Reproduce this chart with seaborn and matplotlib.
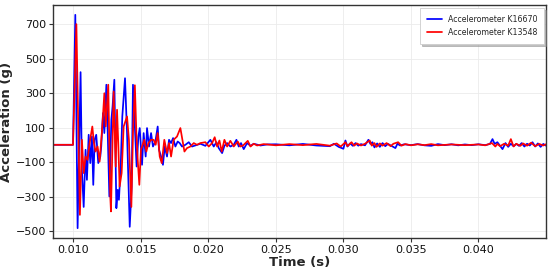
import matplotlib
matplotlib.use("Agg")
import matplotlib.pyplot as plt
import seaborn as sns
import pandas as pd

t_k16670 = [0.0085, 0.00998, 0.01015, 0.01032, 0.01054, 0.01064, 0.01077, 0.01091, 0.01101, 0.01114,
            0.01126, 0.01138, 0.01148, 0.01158, 0.01170, 0.01185, 0.01200, 0.01207, 0.01220, 0.01230,
            0.01245, 0.01254, 0.01267, 0.01282, 0.01291, 0.01304, 0.01319, 0.01329, 0.01338, 0.01351,
            0.01363, 0.01383, 0.01398, 0.01418, 0.01432, 0.01442, 0.01459, 0.01469, 0.01482, 0.01492,
            0.01509, 0.01521, 0.01536, 0.01546, 0.01561, 0.01576, 0.01590, 0.01608, 0.01625, 0.01635,
            0.01650, 0.01664, 0.01677, 0.01694, 0.01709, 0.01724, 0.01739, 0.01756, 0.01773, 0.01788,
            0.01805, 0.01830, 0.01855, 0.01879, 0.01941, 0.01978, 0.02015, 0.02040, 0.02060, 0.02077,
            0.02102, 0.02119, 0.02139, 0.02163, 0.02188, 0.02208, 0.02225, 0.02242, 0.02262, 0.02287,
            0.02312, 0.02336, 0.02386, 0.02435, 0.0250, 0.0260, 0.0270, 0.0280, 0.0290, 0.0293,
            0.02965, 0.0300, 0.03015, 0.0303, 0.0305, 0.0307, 0.0309, 0.0311, 0.0313, 0.0316,
            0.03185, 0.0320, 0.03215, 0.0323, 0.0325, 0.0327, 0.0329, 0.0331, 0.0333, 0.03385,
            0.0340, 0.0342, 0.0345, 0.0350, 0.0355, 0.0360, 0.0365, 0.0370, 0.0375, 0.0380,
            0.0385, 0.0390, 0.0395, 0.0400, 0.0405, 0.04085, 0.04104, 0.0412, 0.0414, 0.04178,
            0.0420, 0.0422, 0.0424, 0.0426, 0.0428, 0.0430, 0.0432, 0.0434, 0.0436, 0.0438,
            0.0440, 0.0442, 0.0444, 0.0446, 0.0448, 0.0450]
a_k16670 = [0, 0, 753, -483, 421, -150, -360, -29, -203, 58,
            -106, 48, -232, 29, 58, -106, -68, -10, 184, 68,
            348, 100, -299, 145, 222, 377, -367, -261, -319, -126,
            164, 386, 68, -475, -242, 348, 48, -126, 48, 97,
            -116, 68, -68, 97, -10, 68, -10, 19, 106, -29,
            -68, -116, -10, -68, 29, 10, 39, -10, 19, 10,
            -10, 0, 15, -10, 6, -6, 29, -10, 15, -19,
            -48, -6, 10, -10, 0, 29, -10, 10, -25, 10,
            -6, 6, -4, 2, 3, -3, 5, -4, -8, 6,
            -12, -23, 25, -10, 8, -6, 10, -5, 4, -3,
            29, 5, 15, -15, 8, -12, 10, -8, 5, -19,
            6, -4, 3, -2, 4, -3, -6, 4, -2, 3,
            -3, 2, -2, 3, -2, 5, 33, 5, 15, -25,
            10, -12, 6, -8, 5, -6, 10, -10, 6, -4,
            15, -10, 8, -12, 5, -5]

t_k13548 = [0.0085, 0.00998, 0.01023, 0.01049, 0.01064, 0.01077, 0.01091, 0.01106, 0.01121, 0.01141,
            0.01153, 0.01165, 0.01180, 0.01195, 0.01215, 0.01230, 0.01240, 0.01259, 0.01274, 0.01279,
            0.01299, 0.01314, 0.01324, 0.01333, 0.01343, 0.01358, 0.01373, 0.01398, 0.01412, 0.01430,
            0.01442, 0.01456, 0.01467, 0.01477, 0.01489, 0.01501, 0.01509, 0.01526, 0.01541, 0.01556,
            0.01576, 0.01595, 0.01610, 0.01625, 0.01640, 0.01655, 0.01674, 0.01694, 0.01709, 0.01724,
            0.01743, 0.01768, 0.01793, 0.01808, 0.01823, 0.01842, 0.01867, 0.01892, 0.01916, 0.01941,
            0.01978, 0.02003, 0.02028, 0.02047, 0.02065, 0.02082, 0.02099, 0.02119, 0.02139, 0.02163,
            0.02188, 0.02218, 0.02237, 0.02257, 0.02292, 0.02312, 0.02336, 0.02361, 0.02410, 0.0250,
            0.0260, 0.0270, 0.0280, 0.0290, 0.0295, 0.0298, 0.03015, 0.0303, 0.0306, 0.0308,
            0.0310, 0.0313, 0.0316, 0.03195, 0.0321, 0.0323, 0.03245, 0.0327, 0.0329, 0.0332,
            0.0335, 0.0337, 0.03405, 0.0343, 0.0346, 0.0350, 0.0355, 0.0360, 0.0365, 0.0370,
            0.0380, 0.0390, 0.0400, 0.0405, 0.0410, 0.04125, 0.0414, 0.0416, 0.0419, 0.0422,
            0.0424, 0.0426, 0.0428, 0.0431, 0.0433, 0.0436, 0.0439, 0.0442, 0.0445, 0.0448,
            0.0450]
a_k13548 = [0, 0, 699, -406, 29, -164, -68, -87, 10, 106,
            10, -39, -10, -97, 106, 299, 106, 348, -299, -386,
            309, -126, 203, 10, -242, -164, 106, 164, 29, -360,
            68, 345, 68, -87, -232, -29, -10, 29, -39, 10,
            29, 29, 0, 68, -68, -106, 29, -48, 10, -68,
            29, 48, 97, 29, -39, -19, -10, 10, 0, 10,
            15, -10, 10, 44, -10, 25, -39, 29, -10, 23,
            -10, 19, -10, -4, 23, -10, 6, -4, 4, -3,
            4, -2, 5, -5, 8, -10, 15, -8, 15, -5,
            8, -4, 6, 25, -5, 10, -12, 8, -5, 10,
            -8, 6, 15, -5, 4, -3, 3, -2, 4, -3,
            2, -2, 2, -3, 10, -10, 5, -8, 6, -5,
            33, -10, 6, -6, 8, -5, 12, -8, 5, -4,
            3]

labels = ["Accelerometer K16670", "Accelerometer K13548"]
colors = ["#0000ff", "#ff0000"]
yticks = [-500, -300, -100, 100, 300, 500, 700]
xticks = [0.010, 0.015, 0.020, 0.025, 0.030, 0.035, 0.040]

df = pd.concat([
    pd.DataFrame({"Time": t_k16670, "Acc": a_k16670, "Sensor": labels[0]}),
    pd.DataFrame({"Time": t_k13548, "Acc": a_k13548, "Sensor": labels[1]}),
], ignore_index=True)

sns.set_theme(style="whitegrid")
plt.rcParams["font.family"] = ["DejaVu Sans"]

fig = plt.figure(figsize=(5.5, 2.71), dpi=100)
ax = fig.add_axes([0.0964, 0.1218, 0.8963, 0.8597])
sns.lineplot(data=df, x="Time", y="Acc", hue="Sensor", palette=colors,
             hue_order=labels, estimator=None, sort=False, linewidth=1.25, ax=ax)

ax.set_xlim(0.0085, 0.045)
ax.set_ylim(-540, 810)
ax.set_xticks(xticks)
ax.set_xticklabels([f"{v:.3f}" for v in xticks])
ax.set_yticks(yticks)
ax.set_yticklabels([f"{v}".replace("-", "\u2212") for v in yticks])
ax.tick_params(axis="both", labelsize=8, length=3, width=0.8, color="#333333",
               labelcolor="#111111", bottom=True, left=True, pad=2)
ax.grid(True, color="#ebebeb", linewidth=0.6)
for s in ax.spines.values():
    s.set_visible(True)
    s.set_color("#333333")
    s.set_linewidth(1.0)
ax.set_xlabel("Time (s)", fontsize=9.5, fontweight="bold", labelpad=1)
ax.set_ylabel("Acceleration (g)", fontsize=9.5, fontweight="bold", labelpad=2)

leg = ax.legend(loc="upper right", fontsize=5.7, frameon=True,
                shadow={"color": "0.55", "alpha": 0.55, "ox": 1.5, "oy": -1.5},
                fancybox=False, borderpad=0.85, handlelength=1.9, labelspacing=0.55,
                handletextpad=0.75, borderaxespad=0,
                bbox_to_anchor=(0.996, 0.987))
leg.get_frame().set_edgecolor("#cccccc")
leg.get_frame().set_linewidth(0.6)

fig.savefig("out.png", dpi=100)
